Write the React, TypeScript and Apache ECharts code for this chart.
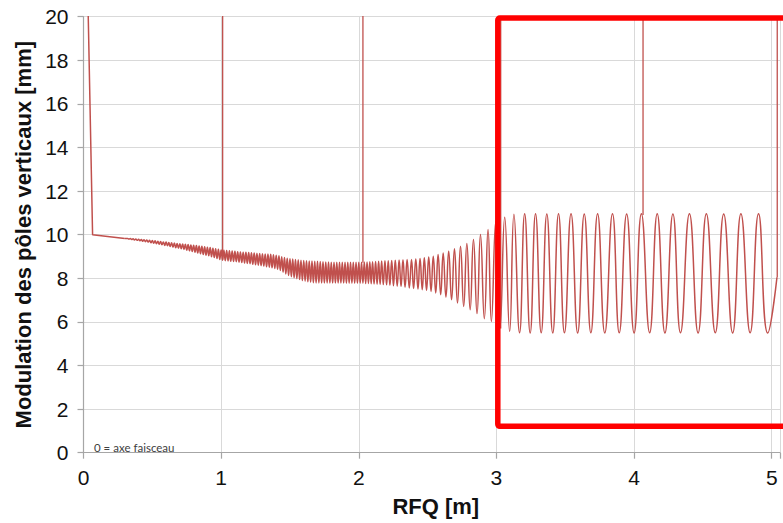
import React, { useEffect, useRef } from "react";
import * as echarts from "echarts";

// Axis settings
const xTickStep = 1;
const yTickStep = 2;
const xMax = 5.06;
const yMax = 20;

// Entry ramp (start of the vane, from off-scale down to 10 mm)
const entryCurve: number[][] = [
  [0.003, 30], [0.066, 10.0], [0.30, 9.83],
];

// Shaper section: small modulation growing
const shaperWave: number[][] = [
  [0.30, 9.83], [0.31, 9.82], [0.32, 9.83], [0.33, 9.80], [0.34, 9.82],
  [0.35, 9.78], [0.36, 9.81], [0.37, 9.76], [0.38, 9.80], [0.39, 9.74],
  [0.40, 9.79], [0.41, 9.72], [0.42, 9.78], [0.43, 9.70], [0.44, 9.77],
  [0.45, 9.68], [0.46, 9.76], [0.47, 9.66], [0.48, 9.74], [0.49, 9.63],
  [0.50, 9.73], [0.51, 9.61], [0.52, 9.72], [0.53, 9.59], [0.54, 9.70],
  [0.55, 9.56], [0.56, 9.69], [0.57, 9.54], [0.58, 9.67], [0.59, 9.51],
  [0.60, 9.66], [0.61, 9.49], [0.62, 9.64], [0.63, 9.46], [0.64, 9.63],
  [0.65, 9.43], [0.66, 9.62], [0.67, 9.40], [0.68, 9.60], [0.69, 9.38],
  [0.70, 9.59], [0.71, 9.36], [0.72, 9.57], [0.73, 9.32], [0.74, 9.56],
  [0.75, 9.29], [0.76, 9.55], [0.77, 9.26], [0.78, 9.53], [0.79, 9.23],
  [0.80, 9.52], [0.81, 9.20], [0.82, 9.50], [0.83, 9.16], [0.84, 9.48],
  [0.85, 9.13], [0.86, 9.47], [0.87, 9.09], [0.88, 9.45], [0.89, 9.06],
  [0.90, 9.43], [0.91, 9.03], [0.92, 9.41], [0.93, 8.99], [0.94, 9.38],
  [0.95, 8.95], [0.96, 9.36], [0.97, 8.91], [0.98, 9.33], [0.99, 8.86],
];

// Gentle buncher section
const buncherWave: number[][] = [
  [1.00, 9.30], [1.01, 8.83], [1.02, 9.29], [1.03, 8.81], [1.04, 9.27],
  [1.05, 8.80], [1.06, 9.26], [1.07, 8.78], [1.08, 9.25], [1.09, 8.77],
  [1.10, 9.24], [1.11, 8.76], [1.12, 9.22], [1.13, 8.74], [1.14, 9.21],
  [1.15, 8.72], [1.16, 9.20], [1.17, 8.70], [1.18, 9.19], [1.19, 8.68],
  [1.20, 9.18], [1.21, 8.67], [1.22, 9.17], [1.23, 8.64], [1.24, 9.16],
  [1.25, 8.62], [1.26, 9.15], [1.27, 8.60], [1.28, 9.14], [1.29, 8.58],
  [1.30, 9.13], [1.31, 8.56], [1.32, 9.12], [1.33, 8.53], [1.34, 9.11],
  [1.35, 8.51], [1.36, 9.10], [1.37, 8.48], [1.38, 9.08], [1.39, 8.45],
  [1.40, 9.06], [1.41, 8.42], [1.42, 9.03], [1.43, 8.36], [1.44, 8.99],
  [1.45, 8.28], [1.46, 8.95], [1.47, 8.20], [1.48, 8.92], [1.49, 8.13],
  [1.50, 8.90], [1.51, 8.07], [1.52, 8.88], [1.53, 8.02], [1.54, 8.86],
  [1.55, 7.98], [1.56, 8.85], [1.57, 7.94], [1.58, 8.83], [1.59, 7.90],
  [1.60, 8.82], [1.61, 7.87], [1.62, 8.80], [1.63, 7.84], [1.64, 8.79],
  [1.65, 7.82], [1.66, 8.79], [1.67, 7.80], [1.68, 8.78], [1.69, 7.79],
  [1.70, 8.78], [1.71, 7.79], [1.72, 8.77], [1.73, 7.78], [1.74, 8.76],
  [1.75, 7.78], [1.76, 8.75], [1.77, 7.78], [1.78, 8.75], [1.79, 7.78],
  [1.80, 8.74], [1.81, 7.78], [1.82, 8.74], [1.83, 7.78], [1.84, 8.74],
  [1.85, 7.78], [1.86, 8.74], [1.87, 7.78], [1.88, 8.74], [1.89, 7.78],
  [1.90, 8.74], [1.91, 7.77], [1.92, 8.74], [1.93, 7.77], [1.94, 8.74],
  [1.95, 7.77], [1.96, 8.74], [1.97, 7.77], [1.98, 8.74], [1.99, 7.77],
];

// Transition: modulation opening up before the accelerating section
const transitionWave: number[][] = [
  [2.00, 8.74], [2.01, 7.77], [2.02, 8.74], [2.03, 7.77], [2.04, 8.75],
  [2.05, 7.76], [2.06, 8.75], [2.07, 7.76], [2.08, 8.76], [2.09, 7.75],
  [2.10, 8.76], [2.111, 7.74], [2.122, 8.77], [2.133, 7.73], [2.144, 8.78],
  [2.155, 7.72], [2.166, 8.79], [2.178, 7.71], [2.19, 8.80], [2.202, 7.70],
  [2.214, 8.81], [2.226, 7.68], [2.239, 8.82], [2.252, 7.66], [2.265, 8.83],
  [2.279, 7.64], [2.293, 8.84], [2.307, 7.62], [2.321, 8.85], [2.336, 7.59],
  [2.351, 8.86], [2.367, 7.56], [2.383, 8.86], [2.398, 7.53], [2.414, 8.89],
  [2.430, 7.51], [2.445, 8.91], [2.461, 7.48], [2.476, 8.94], [2.492, 7.45],
  [2.508, 8.98], [2.525, 7.40], [2.541, 9.01], [2.559, 7.33], [2.576, 9.09],
  [2.595, 7.25], [2.613, 9.16], [2.633, 7.14], [2.653, 9.24], [2.674, 7.02],
  [2.695, 9.35], [2.717, 6.87], [2.739, 9.47], [2.762, 6.71], [2.785, 9.60],
  [2.809, 6.56], [2.833, 9.78], [2.859, 6.38], [2.884, 10.01], [2.912, 6.15],
  [2.939, 10.24], [2.963, 6.02],
];

// Accelerating section: full modulation
const acceleratorWave: number[][] = [
  [2.995, 10.60], [3.026, 5.73], [3.060, 10.80], [3.096, 5.56], [3.127, 10.94],
  [3.168, 5.50], [3.205, 10.96], [3.245, 5.49], [3.284, 10.96], [3.325, 5.50],
  [3.366, 10.95], [3.409, 5.49], [3.451, 10.96], [3.494, 5.50], [3.542, 10.96],
  [3.590, 5.49], [3.638, 10.95], [3.686, 5.50], [3.735, 10.96], [3.787, 5.49],
  [3.843, 10.96], [3.892, 5.50], [3.946, 10.95], [4.000, 5.49], [4.053, 10.96],
  [4.113, 5.50], [4.168, 10.96], [4.224, 5.49], [4.282, 10.95], [4.337, 5.50],
  [4.402, 10.96], [4.465, 5.49], [4.525, 10.96], [4.590, 5.50], [4.651, 10.95],
  [4.716, 5.49], [4.776, 10.96], [4.843, 5.50], [4.904, 10.96], [4.971, 5.49],
  [5.038, 8.05],
];

// Section joints (vertical marks going off-scale)
const jointX = [1.011, 2.030, 3.031, 4.065, 5.040];
const jointBase = [8.85, 8.71, 5.70, 10.90, 8.05];
const jointTop = 25;

const LINE_COLOR = "#c0504d";
const FONT = "'Liberation Sans', Arial, sans-serif";

export default function App() {
  const ref = useRef<HTMLDivElement>(null);

  useEffect(() => {
    if (!ref.current) return;
    const chart = echarts.init(ref.current, null, { renderer: "svg" });

    const wave = [
      ...shaperWave,
      ...buncherWave,
      ...transitionWave,
      ...acceleratorWave,
    ];

    const lineBase = {
      type: "line" as const,
      showSymbol: false,
      symbol: "none",
      silent: true,
      clip: true,
      lineStyle: { color: LINE_COLOR, width: 1.5 },
      z: 3,
    };

    const spikeSeries = jointX.map((x, i) => ({
      ...lineBase,
      lineStyle: { color: LINE_COLOR, width: 1.3 },
      data: [
        [x, jointBase[i]],
        [x, jointTop],
      ],
    }));

    chart.setOption({
      animation: false,
      grid: { left: 83.5, top: 16.7, right: 0, bottom: 70.3, containLabel: false },
      xAxis: {
        type: "value",
        min: 0,
        max: xMax,
        interval: xTickStep,
        name: "RFQ [m]",
        nameLocation: "middle",
        nameGap: 43,
        nameTextStyle: {
          fontSize: 22,
          fontWeight: "bold",
          color: "#111",
          fontFamily: FONT,
          padding: [0, 0, 0, 8],
        },
        axisLine: { show: true, lineStyle: { color: "#a6a6a6", width: 1.2 } },
        axisTick: { show: true, length: 6, lineStyle: { color: "#a6a6a6", width: 1.2 } },
        axisLabel: {
          fontSize: 21,
          color: "#111",
          fontFamily: FONT,
          margin: 14,
          formatter: (v: number) => (Number.isInteger(v) ? String(v) : ""),
        },
        splitLine: { show: true, lineStyle: { color: "#d9d9d9", width: 1 } },
      },
      yAxis: {
        type: "value",
        min: 0,
        max: yMax,
        interval: yTickStep,
        name: "Modulation des pôles verticaux [mm]",
        nameLocation: "middle",
        nameGap: 48,
        nameRotate: 90,
        nameTextStyle: { fontSize: 22, fontWeight: "bold", color: "#111", fontFamily: FONT },
        axisLine: { show: true, lineStyle: { color: "#a6a6a6", width: 1.2 } },
        axisTick: { show: true, length: 6, lineStyle: { color: "#a6a6a6", width: 1.2 } },
        axisLabel: { fontSize: 21, color: "#111", fontFamily: FONT, margin: 15 },
        splitLine: { show: true, lineStyle: { color: "#d9d9d9", width: 1 } },
      },
      series: [
        { ...lineBase, smooth: false, data: entryCurve },
        { ...lineBase, smooth: 0.5, data: wave },
        ...spikeSeries,
      ],
      graphic: [
        {
          type: "rect",
          z: 100,
          silent: true,
          shape: { x: 497.8, y: 18, width: 295, height: 408.3, r: 2 },
          style: { fill: "none", stroke: "#ff0000", lineWidth: 5.5 },
        },
        {
          type: "text",
          z: 100,
          silent: true,
          x: 94,
          y: 447.5,
          style: {
            text: "0 = axe faisceau",
            font: "11.5px Lato, 'Noto Sans', sans-serif",
            fill: "#404040",
            verticalAlign: "middle",
            align: "left",
          },
        },
      ],
    });

    return () => chart.dispose();
  }, []);

  return (
    <div
      ref={ref}
      style={{ position: "fixed", left: 0, top: 0, width: 783, height: 523, background: "#fff" }}
    />
  );
}
